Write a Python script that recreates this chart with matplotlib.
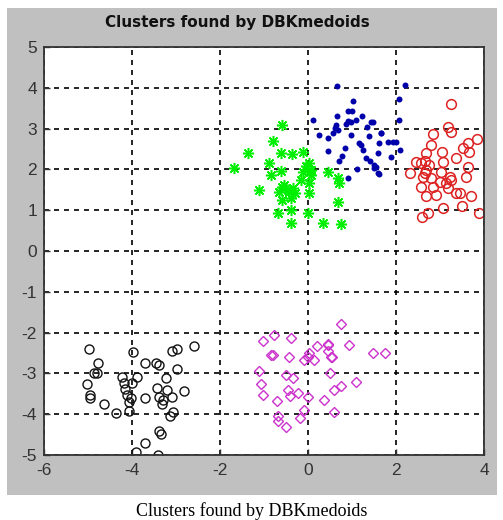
import matplotlib
matplotlib.use("Agg")
import matplotlib.pyplot as plt

plt.rcParams["axes.unicode_minus"] = False

title = "Clusters found by DBKmedoids"
caption = "Clusters found by DBKmedoids"
xticks = [-6, -4, -2, 0, 2, 4]
yticks = [-5, -4, -3, -2, -1, 0, 1, 2, 3, 4, 5]

green_x = [-0.58, -0.80, -1.36, -0.62, -0.37, -0.12, -1.69, -0.88, -0.62, 0.03, 0.07, -0.12,
           -0.84, 0.45, 0.68, 0.71, -1.11, -0.58, -0.46, -0.35, -0.65, 0.03, -0.16, 0.03,
           -0.58, -0.39, 0.68, -0.39, -0.69, -0.01, -0.39, 0.33, 0.75, -0.55, -0.44, -0.29,
           0.07, -0.05]
green_y = [3.09, 2.70, 2.39, 2.41, 2.38, 2.43, 2.03, 2.15, 1.97, 2.15, 1.99, 1.94,
           1.86, 1.94, 1.78, 1.66, 1.50, 1.58, 1.50, 1.54, 1.45, 1.66, 1.74, 1.41,
           1.25, 1.29, 1.21, 1.00, 0.94, 0.92, 0.68, 0.69, 0.66, 1.62, 1.45, 1.41,
           1.86, 2.08]

blue_x = [0.66, 2.21, 2.06, 1.03, 0.90, 1.00, 0.66, 1.23, 0.11, 0.90, 0.98, 1.09, 0.87,
          1.44, 2.06, 0.68, 0.62, 1.34, 0.56, 0.26, 0.45, 0.98, 1.38, 1.65, 1.82, 1.93,
          2.00, 1.21, 1.62, 0.84, 0.45, 1.25, 2.08, 1.59, 0.77, 1.32, 1.89, 0.71, 1.40,
          1.55, 1.50, 1.11, 1.62, 0.90, 0.64, 1.16, 1.66, 1.47, 1.51, 1.59]
blue_y = [4.04, 4.07, 3.72, 3.68, 3.44, 3.44, 3.31, 3.31, 3.21, 3.19, 3.17, 3.21, 3.11,
          3.17, 3.21, 2.97, 3.01, 3.03, 2.88, 2.84, 2.76, 2.84, 2.82, 2.90, 2.68, 2.68,
          2.68, 2.60, 2.64, 2.52, 2.45, 2.48, 2.48, 2.39, 2.33, 2.27, 2.30, 2.21, 2.21,
          2.07, 2.03, 2.00, 1.89, 1.78, 3.09, 2.65, 2.89, 3.17, 2.11, 1.90]

red_x = [3.26, 3.18, 3.26, 2.84, 2.80, 3.85, 3.64, 3.67, 3.52, 3.05, 2.69, 2.65, 3.37,
         2.46, 3.07, 2.76, 2.57, 2.31, 2.69, 3.03, 3.64, 3.60, 2.61, 2.80, 3.22, 2.99,
         2.57, 2.84, 3.18, 3.37, 3.45, 3.71, 2.69, 2.92, 3.50, 3.07, 2.73, 2.60, 3.88,
         2.65, 3.14, 3.26]
red_y = [3.60, 3.05, 2.92, 2.87, 2.60, 2.74, 2.64, 2.43, 2.52, 2.43, 2.41, 2.21, 2.27,
         2.19, 2.19, 2.11, 2.15, 1.92, 1.99, 1.94, 2.07, 1.82, 1.81, 1.78, 1.81, 1.70,
         1.58, 1.58, 1.54, 1.41, 1.41, 1.35, 1.35, 1.37, 1.10, 1.05, 0.94, 0.83, 0.94,
         1.90, 1.66, 1.74]

black_x = [-4.98, -3.97, -3.08, -2.98, -2.59, -4.78, -3.71, -3.46, -3.39, -2.97, -4.87,
           -4.79, -4.22, -3.88, -3.23, -5.03, -4.18, -3.99, -3.44, -3.20, -4.15, -2.82,
           -4.96, -4.96, -4.11, -4.03, -3.39, -3.29, -3.08, -3.71, -4.07, -3.31, -4.64,
           -4.37, -4.07, -3.14, -3.06, -3.39, -3.33, -3.71, -3.92, -3.41]
black_y = [-2.41, -2.48, -2.44, -2.39, -2.33, -2.75, -2.75, -2.75, -2.79, -2.88, -2.98,
           -2.98, -3.08, -3.08, -3.12, -3.26, -3.24, -3.24, -3.37, -3.41, -3.39, -3.42,
           -3.53, -3.61, -3.53, -3.61, -3.57, -3.65, -3.57, -3.61, -3.69, -3.75, -3.75,
           -3.96, -3.91, -4.04, -3.94, -4.40, -4.49, -4.70, -4.92, -5.00]

magenta_x = [0.74, -0.77, -1.03, -0.39, 0.21, 0.46, 0.94, 0.46, -0.80, -0.43, 0.03, -0.01,
             -0.08, 0.14, 0.54, 1.47, 1.74, -1.11, -0.50, -0.33, 0.49, 1.09, -1.07, 0.74,
             0.60, -0.46, -0.22, -0.40, -1.03, -0.01, 0.36, -0.71, -0.08, 0.60, -0.69,
             -0.18, -0.68, -0.50, -0.84, 0.45, 0.52]
magenta_y = [-1.79, -2.06, -2.20, -2.14, -2.33, -2.28, -2.30, -2.44, -2.55, -2.59, -2.51,
             -2.59, -2.67, -2.67, -2.59, -2.51, -2.49, -2.93, -3.04, -3.12, -3.00, -3.20,
             -3.26, -3.31, -3.41, -3.41, -3.47, -3.55, -3.53, -3.59, -3.65, -3.67, -3.90,
             -3.94, -4.04, -4.10, -4.16, -4.31, -2.55, -2.30, -2.60]

W, H = 503, 520
fig = plt.figure(figsize=(W / 100, H / 100), dpi=100)
fig.patch.set_facecolor("white")

bg = fig.add_axes([7 / W, 1 - 495 / H, 490 / W, 487 / H], zorder=0)
bg.set_facecolor("#c0c0c0")
bg.set_xticks([])
bg.set_yticks([])
for s in bg.spines.values():
    s.set_visible(False)

ax = fig.add_axes([44 / W, 1 - 455 / H, 440 / W, 408 / H], zorder=1)
ax.set_facecolor("white")
ax.set_xlim(-6, 4)
ax.set_ylim(-5, 5)
ax.set_xticks(xticks)
ax.set_yticks(yticks)
ax.grid(True, color="black", linestyle=(0, (3, 3)), linewidth=1.2)
ax.set_axisbelow(True)
ax.tick_params(direction="in", length=4, width=1, colors="#333333",
               labelsize=12.5, top=False, right=False)
for lab in ax.get_xticklabels() + ax.get_yticklabels():
    lab.set_family("Liberation Sans")
ax.tick_params(axis="x", pad=6)
ax.tick_params(axis="y", pad=5)
for s in ax.spines.values():
    s.set_color("#333333")
    s.set_linewidth(1.3)

ax.plot(green_x, green_y, linestyle="none", marker=(8, 2, 0), markersize=8,
        markeredgewidth=1.1, color="#00ee00")
ax.plot(blue_x, blue_y, linestyle="none", marker="o", markersize=4.3,
        color="#0000aa", markeredgewidth=0)
ax.plot(red_x, red_y, linestyle="none", marker="o", markersize=7,
        markerfacecolor="none", markeredgecolor="#dd2222", markeredgewidth=1.1)
ax.plot(black_x, black_y, linestyle="none", marker="o", markersize=6.5,
        markerfacecolor="none", markeredgecolor="#111111", markeredgewidth=1.0)
ax.plot(magenta_x, magenta_y, linestyle="none", marker="D", markersize=5.5,
        markerfacecolor="none", markeredgecolor="#cc33cc", markeredgewidth=1.0)

fig.text(237 / W, 1 - 23 / H, title, ha="center", va="center",
         fontsize=11, fontweight="bold", family="DejaVu Sans", color="#111111")
fig.text(252 / W, 1 - 511 / H, caption, ha="center", va="center",
         fontsize=13, family="Liberation Serif", color="black")

fig.savefig("out.png", dpi=100, facecolor="white")
